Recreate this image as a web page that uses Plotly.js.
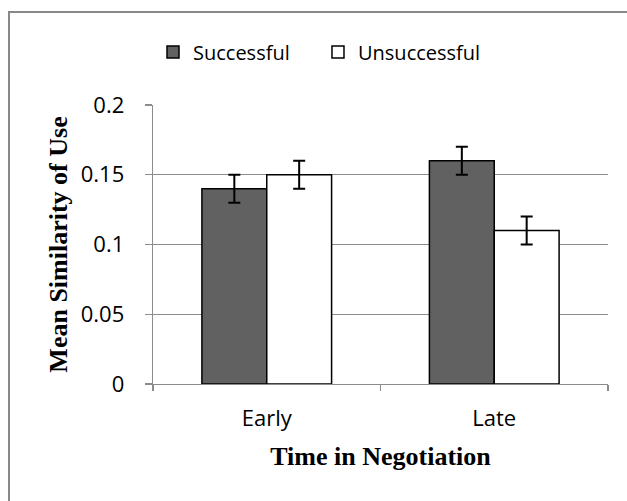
<!DOCTYPE html>
<html>
<head>
<meta charset="utf-8">
<script src="https://cdn.plot.ly/plotly-3.0.1.min.js"></script>
<style>html,body{margin:0;padding:0;background:#fff;}#chart{width:627px;height:501px;}</style>
</head>
<body>
<div id="chart"></div>
<script>
var categories = ["Early", "Late"];
var successful = [0.14, 0.16];
var successfulErr = [0.01, 0.01];
var unsuccessful = [0.15, 0.11];
var unsuccessfulErr = [0.01, 0.01];
var yTicks = [0, 0.05, 0.1, 0.15, 0.2];
var yTickLabels = ["0", "0.05", "0.1", "0.15", "0.2"];

var tickFont = {family: "Open Sans", size: 22, color: "#000"};
var titleFont = {family: "Liberation Serif", size: 26, color: "#000", weight: "bold"};
var legendFont = {family: "Open Sans", size: 20, color: "#000"};

var traces = [
  {
    type: "bar", name: "Successful", x: categories, y: successful, legend: "legend",
    marker: {color: "#616161", line: {color: "#000", width: 1.5}},
    error_y: {type: "data", array: successfulErr, visible: true, color: "#000", thickness: 2, width: 6}
  },
  {
    type: "bar", name: "Unsuccessful", x: categories, y: unsuccessful, legend: "legend2",
    marker: {color: "#ffffff", line: {color: "#000", width: 1.5}},
    error_y: {type: "data", array: unsuccessfulErr, visible: true, color: "#000", thickness: 2, width: 6}
  }
];

var layout = {
  width: 627, height: 501,
  margin: {l: 153, r: 19, t: 105, b: 117},
  paper_bgcolor: "#fff", plot_bgcolor: "#fff",
  barmode: "group", bargap: 0.43, bargroupgap: 0,
  showlegend: true,
  legend: {
    orientation: "h", x: 0.0, xanchor: "left", y: 1.19, yanchor: "middle",
    font: legendFont, itemclick: false, bgcolor: "rgba(0,0,0,0)"
  },
  legend2: {
    orientation: "h", x: 0.3626, xanchor: "left", y: 1.19, yanchor: "middle",
    font: legendFont, itemclick: false, bgcolor: "rgba(0,0,0,0)"
  },
  xaxis: {
    type: "category", tickson: "boundaries", ticks: "outside", ticklen: 6, tickcolor: "#8c8c8c", tickwidth: 1.3,
    showline: true, linecolor: "#8c8c8c", linewidth: 1.3, showgrid: false,
    tickfont: tickFont, ticklabelstandoff: 14,
    title: {text: "Time in Negotiation", font: titleFont, standoff: 16}
  },
  yaxis: {
    range: [0, 0.2], tickvals: yTicks, ticktext: yTickLabels,
    ticks: "outside", ticklen: 7, tickcolor: "#8c8c8c", tickwidth: 1.3,
    showline: true, linecolor: "#8c8c8c", linewidth: 1.3,
    showgrid: true, gridcolor: "#8c8c8c", gridwidth: 1.3, zeroline: false,
    tickfont: tickFont, ticklabelstandoff: 16,
    title: {text: "Mean Similarity of Use", font: titleFont, standoff: 5}
  },
  shapes: [
    {type: "rect", xref: "paper", yref: "paper", x0: -0.3165, x1: 2, y0: -2, y1: 1.3333,
     line: {color: "#888888", width: 2}, fillcolor: "rgba(0,0,0,0)", layer: "below"}
  ]
};

Plotly.newPlot("chart", traces, layout, {displayModeBar: false, staticPlot: true});
</script>
</body>
</html>
